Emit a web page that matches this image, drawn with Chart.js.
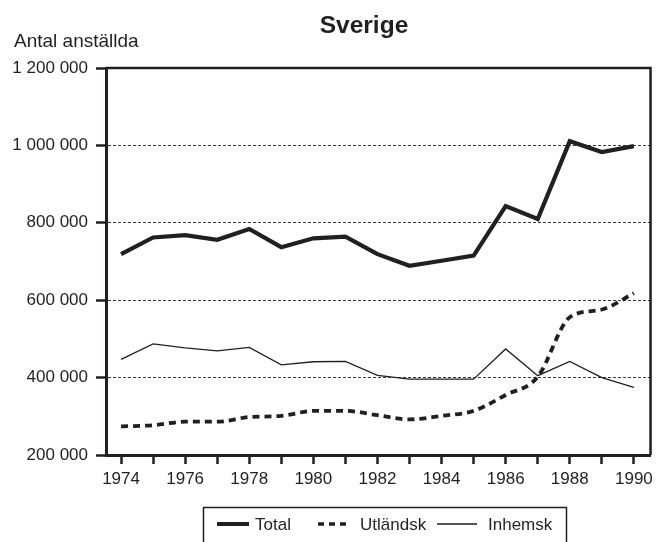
<!DOCTYPE html>
<html>
<head>
<meta charset="utf-8">
<script src="https://cdn.jsdelivr.net/npm/chart.js@4/dist/chart.umd.min.js"></script>
<style>
html,body{margin:0;padding:0;background:#fff;}
#wrap{width:658px;height:542px;position:relative;}
</style>
</head>
<body>
<div id="wrap"><canvas id="c" width="658" height="542"></canvas></div>
<script>
const years = [1974,1975,1976,1977,1978,1979,1980,1981,1982,1983,1984,1985,1986,1987,1988,1989,1990];
const total = [719000,762000,768000,756000,784000,737000,760000,764000,719000,689000,702000,715000,843000,810000,1011000,983000,998000];
const utlandsk = [274000,277000,286000,286000,298000,301000,314000,314000,303000,292000,301000,314000,355000,402000,556000,576000,618000];
const inhemsk = [447000,487000,477000,469000,478000,433000,441000,442000,406000,396000,396000,396000,474000,405000,442000,400000,375000];
const yTicks = [200000,400000,600000,800000,1000000,1200000];
const seriesNames = ['Total','Utländsk','Inhemsk'];
const titleText = 'Sverige';
const yTitle = 'Antal anställda';

const INK = '#231f20';
const FONT = '"Liberation Sans", Arial, Helvetica, sans-serif';

function pts(arr){ return years.map((y,i)=>({x:y,y:arr[i]})); }
function fmt(v){ return String(v).replace(/\B(?=(\d{3})+(?!\d))/g,' '); }

const decor = {
  id:'decor',
  afterDraw(chart){
    const ctx = chart.ctx, a = chart.chartArea;
    ctx.save();
    // top and right frame
    ctx.strokeStyle = INK; ctx.lineWidth = 2.5;
    ctx.beginPath();
    ctx.moveTo(a.left, a.top); ctx.lineTo(a.right, a.top); ctx.lineTo(a.right, a.bottom);
    ctx.stroke();
    // title
    ctx.fillStyle = INK;
    ctx.font = 'bold 24.5px ' + FONT;
    ctx.textAlign = 'center'; ctx.textBaseline = 'alphabetic';
    ctx.fillText(titleText, 364, 33);
    // y title
    ctx.font = '19px ' + FONT;
    ctx.textAlign = 'left';
    ctx.fillText(yTitle, 14, 47);
    // legend
    ctx.font = '17px ' + FONT;
    ctx.lineWidth = 1.5;
    ctx.strokeRect(203.5, 507.5, 363, 40);
    const ly = 524;
    ctx.textBaseline = 'middle';
    // Total
    ctx.lineWidth = 4; ctx.setLineDash([]);
    ctx.beginPath(); ctx.moveTo(217, ly); ctx.lineTo(249, ly); ctx.stroke();
    ctx.fillText(seriesNames[0], 255, ly+1);
    // Utländsk
    ctx.lineWidth = 3.5; ctx.setLineDash([6,5]);
    ctx.beginPath(); ctx.moveTo(318, ly); ctx.lineTo(349, ly); ctx.stroke();
    ctx.setLineDash([]);
    ctx.fillText(seriesNames[1], 360, ly+1);
    // Inhemsk
    ctx.lineWidth = 1.3;
    ctx.beginPath(); ctx.moveTo(437, ly); ctx.lineTo(477, ly); ctx.stroke();
    ctx.fillText(seriesNames[2], 488, ly+1);
    ctx.restore();
  }
};

new Chart(document.getElementById('c'), {
  type:'line',
  data:{
    datasets:[
      {label:seriesNames[0], data:pts(total), borderColor:INK, borderWidth:4.2, pointRadius:0, tension:0, borderJoinStyle:'miter', borderCapStyle:'butt'},
      {label:seriesNames[1], data:pts(utlandsk), borderColor:INK, borderWidth:3.8, pointRadius:0, tension:0.4, cubicInterpolationMode:'monotone', borderDash:[7,5], borderCapStyle:'butt'},
      {label:seriesNames[2], data:pts(inhemsk), borderColor:INK, borderWidth:1.3, pointRadius:0, tension:0}
    ]
  },
  options:{
    responsive:false,
    animation:false,
    devicePixelRatio:1,
    layout:{padding:{top:68,right:7,bottom:0,left:0}},
    plugins:{legend:{display:false}, title:{display:false}, tooltip:{enabled:false}},
    scales:{
      x:{
        type:'linear', min:1973.53, max:1990.52,
        afterBuildTicks(s){ s.ticks = years.map(v=>({value:v})); },
        afterFit(s){ s.height = 87; },
        grid:{drawOnChartArea:false, drawTicks:true, tickLength:9, tickWidth:2.5, tickColor:INK},
        border:{display:true, color:INK, width:3},
        ticks:{autoSkip:false, maxRotation:0, padding:5, color:INK, font:{family:FONT, size:17},
          callback(v){ return (v%2===0) ? String(v) : ''; }}
      },
      y:{
        min:200000, max:1200000,
        afterBuildTicks(s){ s.ticks = yTicks.map(v=>({value:v})); },
        afterFit(s){ s.width = 106; },
        grid:{drawTicks:true, tickLength:10, tickWidth:2.5, tickColor:INK, tickBorderDash:[], lineWidth:1,
          color(c){ const v=c.tick&&c.tick.value; return (v===200000||v===1200000)?'rgba(0,0,0,0)':'#3a3a3a'; }},
        border:{display:true, color:INK, width:3, dash:[3,2]},
        ticks:{padding:8, color:INK, font:{family:FONT, size:17}, callback(v){ return fmt(v); }}
      }
    }
  },
  plugins:[decor]
});
</script>
</body>
</html>
